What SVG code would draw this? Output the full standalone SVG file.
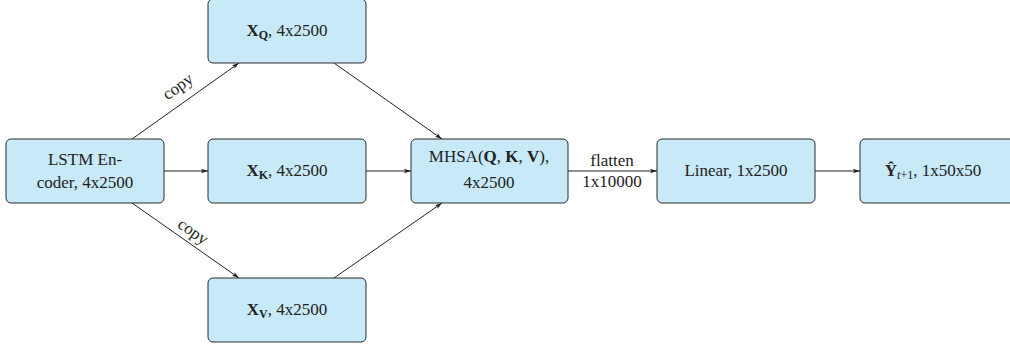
<svg xmlns="http://www.w3.org/2000/svg" width="1010" height="348" viewBox="0 0 1010 348">
<defs>
<marker id="ah" markerWidth="8" markerHeight="6" refX="7" refY="3" orient="auto" markerUnits="userSpaceOnUse">
<path d="M0,0.8 L7,3 L0,5.2 L1.5,3 Z" fill="#222"/>
</marker>
</defs>
<style>
.box{fill:#c7e9f8;stroke:#2a2a2a;stroke-width:1}
.t{font-family:"Liberation Serif","DejaVu Serif",serif;font-size:17px;fill:#222;text-anchor:middle}
.b{font-weight:bold}
.s{font-size:12px}
.e{stroke:#222;stroke-width:1;fill:none;marker-end:url(#ah)}
</style>
<rect width="1010" height="348" fill="#fff"/>
<g id="connectors">
<line class="e" x1="132" y1="139" x2="239" y2="63"/>
<line class="e" x1="132" y1="203" x2="239" y2="278"/>
<line class="e" x1="164" y1="171" x2="208" y2="171"/>
<line class="e" x1="334" y1="63" x2="442" y2="139"/>
<line class="e" x1="366" y1="171" x2="411" y2="171"/>
<line class="e" x1="334" y1="278" x2="442" y2="203"/>
<line class="e" x1="568" y1="171" x2="657" y2="171"/>
<line class="e" x1="815" y1="171" x2="860" y2="171"/>
<text class="t" transform="translate(181,91) rotate(-35.4)">copy</text>
<text class="t" transform="translate(190,236) rotate(35)">copy</text>
<text class="t" x="612" y="166">flatten</text>
<text class="t" x="612" y="187">1x10000</text>
</g>
<g id="lstm">
<rect class="box" x="6" y="139" width="158" height="64" rx="5"/>
<text class="t" x="85" y="165">LSTM En-</text>
<text class="t" x="85" y="188">coder, 4x2500</text>
</g>
<g id="xq">
<rect class="box" x="208" y="-1" width="158" height="64" rx="5"/>
<text class="t" x="287" y="36"><tspan class="b">X</tspan><tspan class="b s" dy="3">Q</tspan><tspan dy="-3">, 4x2500</tspan></text>
</g>
<g id="xk">
<rect class="box" x="208" y="139" width="158" height="64" rx="5"/>
<text class="t" x="287" y="176"><tspan class="b">X</tspan><tspan class="b s" dy="3">K</tspan><tspan dy="-3">, 4x2500</tspan></text>
</g>
<g id="xv">
<rect class="box" x="208" y="278" width="158" height="64" rx="5"/>
<text class="t" x="287" y="315"><tspan class="b">X</tspan><tspan class="b s" dy="3">V</tspan><tspan dy="-3">, 4x2500</tspan></text>
</g>
<g id="mhsa">
<rect class="box" x="411" y="139" width="157" height="64" rx="5"/>
<text class="t" x="489" y="162">MHSA(<tspan class="b">Q</tspan>, <tspan class="b">K</tspan>, <tspan class="b">V</tspan>),</text>
<text class="t" x="489" y="188">4x2500</text>
</g>
<g id="linear">
<rect class="box" x="657" y="139" width="158" height="64" rx="5"/>
<text class="t" x="736" y="176">Linear, 1x2500</text>
</g>
<g id="yhat">
<rect class="box" x="860" y="139" width="158" height="64" rx="5"/>
<text class="t" x="933" y="176"><tspan class="b">Ŷ</tspan><tspan class="s" font-style="italic" dy="3">t</tspan><tspan class="s">+1</tspan><tspan dy="-3">, 1x50x50</tspan></text>
</g>
</svg>
